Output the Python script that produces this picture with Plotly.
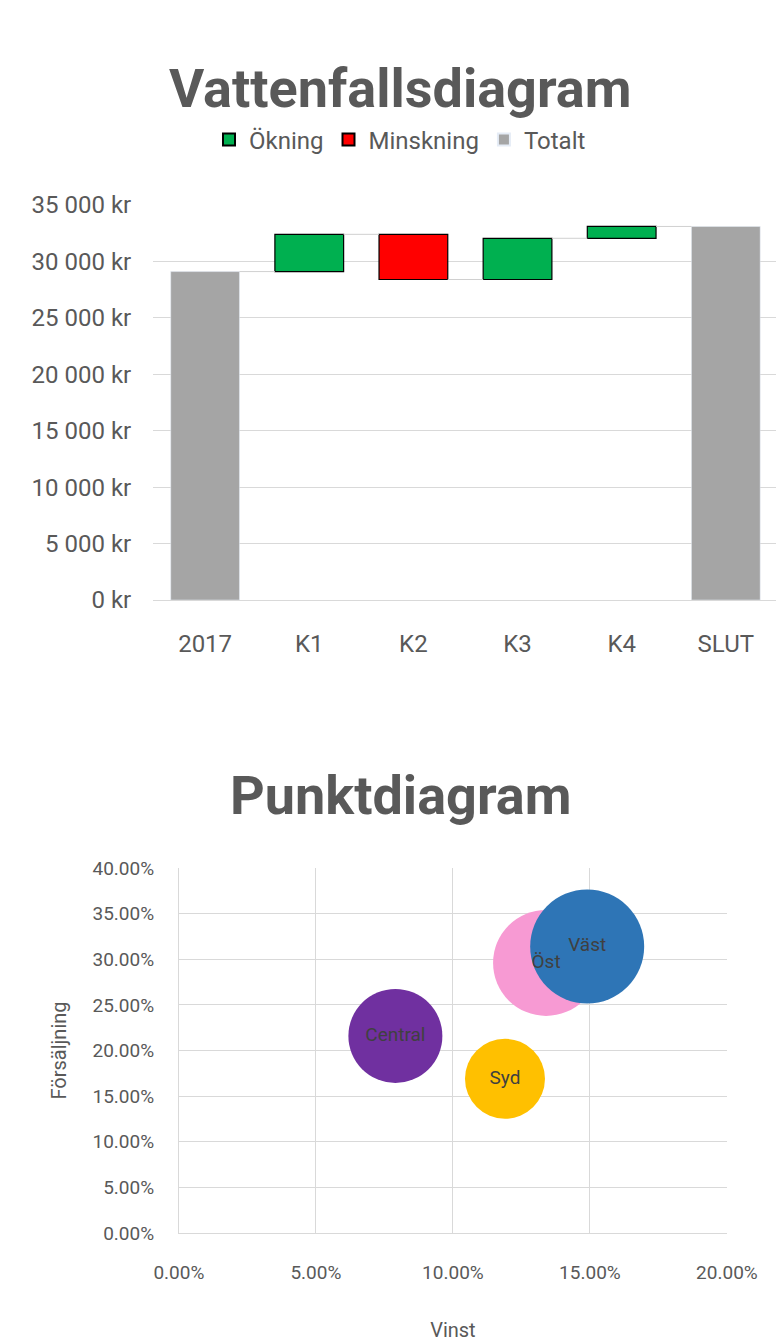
import plotly.graph_objects as go

# waterfall data
categories = ['2017', 'K1', 'K2', 'K3', 'K4', 'SLUT']
start_total = 29100
changes = [3300, -4000, 3650, 1050]
wf_ticks = [0, 5000, 10000, 15000, 20000, 25000, 30000, 35000]
wf_ticktext = ['0 kr', '5 000 kr', '10 000 kr', '15 000 kr', '20 000 kr', '25 000 kr', '30 000 kr', '35 000 kr']

# bubble data
regions = ['Central', 'Öst', 'Väst', 'Syd']
vinst = [0.079, 0.134, 0.149, 0.119]
forsaljning = [0.216, 0.296, 0.314, 0.169]
bubble_size = [94, 106, 114, 80]
bubble_colors = ['#7030A0', '#F79AD3', '#2E75B6', '#FFC000']

H = 1337
fig = go.Figure()

# build waterfall
levels = [start_total]
for c in changes:
    levels.append(levels[-1] + c)
end_total = levels[-1]

inc_x, inc_base, inc_y = [], [], []
dec_x, dec_base, dec_y = [], [], []
for i, c in enumerate(changes):
    cat = categories[i + 1]
    if c >= 0:
        inc_x.append(cat); inc_base.append(levels[i]); inc_y.append(c)
    else:
        dec_x.append(cat); dec_base.append(levels[i + 1]); dec_y.append(-c)

fig.add_trace(go.Bar(x=inc_x, y=inc_y, base=inc_base, name='Ökning', marker_color='#00B050',
                     marker_line=dict(color='black', width=1.2), width=0.66, xaxis='x', yaxis='y'))
fig.add_trace(go.Bar(x=dec_x, y=dec_y, base=dec_base, name='Minskning', marker_color='#FF0000',
                     marker_line=dict(color='black', width=1.2), width=0.66, xaxis='x', yaxis='y'))
fig.add_trace(go.Bar(x=[categories[0], categories[-1]], y=[start_total, end_total], name='Totalt',
                     marker_color='#A5A5A5', width=0.66, xaxis='x', yaxis='y'))

# connector lines
for i in range(len(categories) - 1):
    fig.add_trace(go.Scatter(x=[i + 0.33, i + 0.67], y=[levels[min(i, len(levels) - 1)]] * 2,
                             mode='lines', line=dict(color='#D0D0D0', width=1),
                             showlegend=False, hoverinfo='skip', xaxis='x2', yaxis='y'))

# bubbles
fig.add_trace(go.Scatter(x=vinst, y=forsaljning, mode='markers+text', text=regions,
                         textfont=dict(size=19, color='#404040', family='Roboto'),
                         marker=dict(size=bubble_size, color=bubble_colors, opacity=1, line=dict(width=0)),
                         showlegend=False, xaxis='x3', yaxis='y3'))

grid = '#D9D9D9'
fig.update_layout(
    width=784, height=H, margin=dict(l=0, r=0, t=0, b=0, autoexpand=False),
    plot_bgcolor='white', paper_bgcolor='white',
    font=dict(family='Roboto', color='#595959'),
    barmode='overlay', bargap=0.34,
    legend=dict(orientation='h', x=0.5, xanchor='center', y=1 - 132 / H, yanchor='middle',
                font=dict(size=24, color='#595959'), itemsizing='constant'),
    xaxis=dict(domain=[0.185, 0.982], type='category', categoryorder='array', categoryarray=categories,
               tickfont=dict(size=24), showgrid=False, showline=True, linecolor=grid,
               ticks='outside', ticklen=22, tickcolor='white', automargin=False),
    xaxis2=dict(domain=[0.185, 0.982], range=[-0.5, 5.5], overlaying='x', visible=False),
    yaxis=dict(domain=[1 - 592 / H, 1 - 197 / H], range=[0, 35000], tickvals=wf_ticks, ticktext=wf_ticktext,
               tickfont=dict(size=24), gridcolor=grid, zeroline=False,
               ticks='outside', ticklen=16, tickcolor='white', automargin=False),
    xaxis3=dict(domain=[0.218, 0.917], anchor='y3', range=[0, 0.2], dtick=0.05, tickformat='.2%',
                tickfont=dict(size=19), gridcolor=grid, showline=True, linecolor=grid, zeroline=False,
                ticks='outside', ticklen=22, tickcolor='white', automargin=False,
                title=dict(text='Vinst', font=dict(size=20), standoff=40)),
    yaxis3=dict(domain=[1 - 1225 / H, 1 - 860 / H], anchor='x3', range=[0, 0.4], dtick=0.05, tickformat='.2%',
                tickfont=dict(size=19), gridcolor=grid, showline=True, linecolor=grid, zeroline=False,
                ticks='outside', ticklen=20, tickcolor='white', automargin=False,
                title=dict(text='Försäljning', font=dict(size=20), standoff=20)),
    annotations=[
        dict(text='<b>Vattenfallsdiagram</b>', x=0.5, y=1 - 47 / H, xref='paper', yref='paper',
             showarrow=False, font=dict(size=54, color='#595959')),
        dict(text='<b>Punktdiagram</b>', x=0.5, y=1 - 787 / H, xref='paper', yref='paper',
             showarrow=False, font=dict(size=54, color='#595959')),
    ],
)

fig.write_html("out.html")
